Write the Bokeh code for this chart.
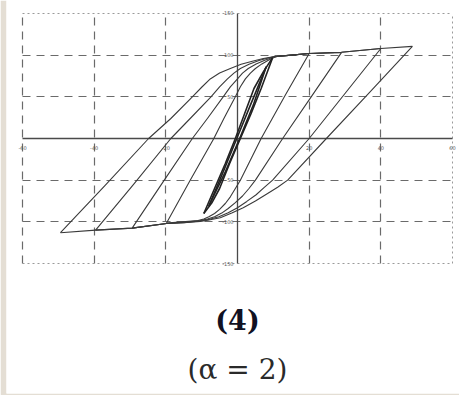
from bokeh.plotting import figure
from bokeh.models import Range1d, Grid, FixedTicker, Label
from bokeh.embed import file_html
from bokeh.resources import INLINE
from bokeh.core.properties import value

# ---- grid / axes (in units of one grid division) ----
x_grid_dashed = [-3, -2, -1, 1, 2]
x_grid_dotted = [3]
y_grid_dashed = [-2, -1, 1, 2]
y_grid_dotted = [-3, 3]
axis_extent = [-3, 3]

x_tick_vals = [-3, -2, -1, 1, 2, 3]
x_tick_labels = ["-60", "-40", "-20", "20", "40", "60"]
y_tick_vals = [3, 2, 1, -1, -2, -3]
y_tick_labels = ["150", "100", "50", "-50", "-100", "-150"]

# ---- hysteresis loops: loading (up) and unloading (down) branches ----
L5_up_x = [-2.47, -1.85, -1.24, -0.93, -0.63, -0.50, -0.38, -0.25, -0.10, 0.05, 0.22, 0.36, 0.50, 0.75, 1.00, 1.45, 2.00, 2.44]
L5_up_y = [-2.26, -1.13, 0.00, 0.48, 1.00, 1.23, 1.43, 1.57, 1.68, 1.78, 1.86, 1.92, 1.96, 2.00, 2.04, 2.07, 2.16, 2.21]
L5_dn_x = [2.44, 1.84, 1.24, 0.70, 0.56, 0.42, 0.25, 0.08, -0.08, -0.24, -0.38, -0.52, -0.75, -0.99, -1.47, -1.98, -2.47]
L5_dn_y = [2.21, 1.10, 0.00, -1.00, -1.17, -1.32, -1.50, -1.66, -1.79, -1.90, -1.95, -1.99, -2.02, -2.04, -2.15, -2.20, -2.26]

L4_up_x = [-1.98, -1.45, -0.93, -0.66, -0.37, -0.25, -0.14, -0.05, 0.04, 0.16, 0.30, 0.40, 0.50, 0.75, 1.00, 1.45, 2.00]
L4_up_y = [-2.20, -1.10, 0.00, 0.48, 1.00, 1.24, 1.43, 1.57, 1.68, 1.78, 1.87, 1.92, 1.96, 2.00, 2.04, 2.07, 2.16]
L4_dn_x = [2.00, 1.50, 1.00, 0.49, 0.37, 0.26, 0.13, 0.00, -0.13, -0.26, -0.39, -0.52, -0.75, -0.99, -1.47, -1.98]
L4_dn_y = [2.16, 1.08, 0.00, -1.00, -1.18, -1.35, -1.51, -1.66, -1.78, -1.88, -1.94, -1.98, -2.02, -2.04, -2.15, -2.20]

L3_up_x = [-1.47, -1.05, -0.63, -0.42, -0.20, -0.10, 0.00, 0.07, 0.15, 0.26, 0.38, 0.45, 0.52, 0.75, 1.00, 1.45]
L3_up_y = [-2.15, -1.07, 0.00, 0.48, 1.00, 1.24, 1.43, 1.57, 1.68, 1.79, 1.88, 1.92, 1.96, 2.00, 2.04, 2.06]
L3_dn_x = [1.45, 1.04, 0.63, 0.25, 0.16, 0.07, -0.03, -0.13, -0.22, -0.32, -0.42, -0.52, -0.75, -0.99, -1.47]
L3_dn_y = [2.06, 1.03, 0.00, -1.00, -1.20, -1.38, -1.54, -1.68, -1.79, -1.88, -1.93, -1.97, -2.01, -2.04, -2.15]

L2_up_x = [-0.99, -0.66, -0.33, -0.19, -0.03, 0.04, 0.11, 0.18, 0.25, 0.34, 0.43, 0.49, 0.55, 0.75, 1.00]
L2_up_y = [-2.03, -1.00, 0.00, 0.48, 1.00, 1.24, 1.43, 1.57, 1.68, 1.79, 1.88, 1.93, 1.97, 2.00, 2.04]
L2_dn_x = [1.00, 0.66, 0.33, 0.04, -0.03, -0.10, -0.17, -0.25, -0.32, -0.40, -0.47, -0.55, -0.77, -0.99]
L2_dn_y = [2.04, 1.02, 0.00, -1.00, -1.20, -1.40, -1.56, -1.70, -1.80, -1.88, -1.93, -1.97, -2.00, -2.03]

L1_up_x = [-0.47, -0.32, -0.17, -0.03, 0.10, 0.23, 0.36, 0.49]
L1_up_y = [-1.80, -1.20, -0.60, 0.00, 0.60, 1.20, 1.60, 1.94]
L1_dn_x = [0.49, 0.33, 0.19, 0.04, -0.11, -0.25, -0.36, -0.47]
L1_dn_y = [1.94, 1.20, 0.60, 0.00, -0.60, -1.20, -1.55, -1.80]

L0_up_x = [-0.40, -0.20, -0.01, 0.18, 0.40]
L0_up_y = [-1.62, -0.80, 0.00, 0.80, 1.72]
L0_dn_x = [0.40, 0.22, 0.03, -0.17, -0.40]
L0_dn_y = [1.72, 0.80, 0.00, -0.80, -1.62]

caption_top = "(4)"
caption_bottom = "(\u03b1 = 2)"

# ---- page geometry ----
W, H = 459, 395
LEFT_STRIP, BOTTOM_STRIP = 6, 2
ORIGIN_PX_X, ORIGIN_PX_Y = 237.0, 138.0   # where (0, 0) sits on the page
UNIT_X, UNIT_Y = 71.67, 41.67             # pixels per grid division

def to_x(px):
    return (px - ORIGIN_PX_X) / UNIT_X

def to_y(py):
    return (ORIGIN_PX_Y - py) / UNIT_Y

p = figure(width=W, height=H, output_backend="svg", toolbar_location=None,
           x_axis_location=None, y_axis_location=None,
           x_range=Range1d(to_x(LEFT_STRIP), to_x(W)),
           y_range=Range1d(to_y(H - BOTTOM_STRIP), to_y(0)),
           min_border=0, min_border_left=LEFT_STRIP, min_border_bottom=BOTTOM_STRIP,
           min_border_top=0, min_border_right=0)
p.border_fill_color = "#e4ded4"
p.background_fill_color = "white"
p.outline_line_color = None
p.grid.visible = False

def add_grid(dim, ticks, dash, color, width):
    g = Grid(dimension=dim, ticker=FixedTicker(ticks=ticks),
             cross_bounds=(axis_extent[0], axis_extent[1]),
             grid_line_color=color, grid_line_dash=dash, grid_line_width=width)
    p.add_layout(g)

add_grid(0, x_grid_dashed, "8 6", "#6a6a6a", 1.2)
add_grid(1, y_grid_dashed, "8 6", "#6a6a6a", 1.2)
add_grid(0, x_grid_dotted, "2 3", "#9a9a9a", 1.0)
add_grid(1, y_grid_dotted, "2 3", "#9a9a9a", 1.0)

# axes through the origin
p.segment(x0=[axis_extent[0], 0], y0=[0, axis_extent[0]],
          x1=[axis_extent[1], 0], y1=[0, axis_extent[1]],
          line_color="#4a4a4a", line_width=1.3)

# tick labels
p.text(x=x_tick_vals, y=[0] * len(x_tick_vals), text=x_tick_labels,
       text_font=value("DejaVu Sans"), text_font_size="5px", text_color="#555555",
       text_align="center", text_baseline="top", y_offset=7)
p.text(x=[0] * len(y_tick_vals), y=y_tick_vals, text=y_tick_labels,
       text_font=value("DejaVu Sans"), text_font_size="5px", text_color="#555555",
       text_align="right", text_baseline="middle", x_offset=-4)

# loops
outer_xs = [L5_up_x, L5_dn_x, L4_up_x, L4_dn_x, L3_up_x, L3_dn_x, L2_up_x, L2_dn_x]
outer_ys = [L5_up_y, L5_dn_y, L4_up_y, L4_dn_y, L3_up_y, L3_dn_y, L2_up_y, L2_dn_y]
p.multi_line(xs=outer_xs, ys=outer_ys, line_color="#3a3a3a", line_width=1.1,
             line_join="round")

inner_xs = [L1_up_x, L1_dn_x, L0_up_x, L0_dn_x]
inner_ys = [L1_up_y, L1_dn_y, L0_up_y, L0_dn_y]
p.multi_line(xs=inner_xs, ys=inner_ys, line_color="#222222", line_width=1.6,
             line_join="round")

p.add_layout(Label(x=0, y=to_y(320), text=caption_top, text_align="center",
                   text_baseline="middle", text_font="DejaVu Serif",
                   text_font_style="bold", text_font_size="27px", text_color="#111122"))
p.add_layout(Label(x=0, y=to_y(369), text=caption_bottom, text_align="center",
                   text_baseline="middle", text_font="DejaVu Serif",
                   text_font_size="28px", text_color="#2a2a2a"))

open("out.html", "w").write(file_html(p, INLINE))
